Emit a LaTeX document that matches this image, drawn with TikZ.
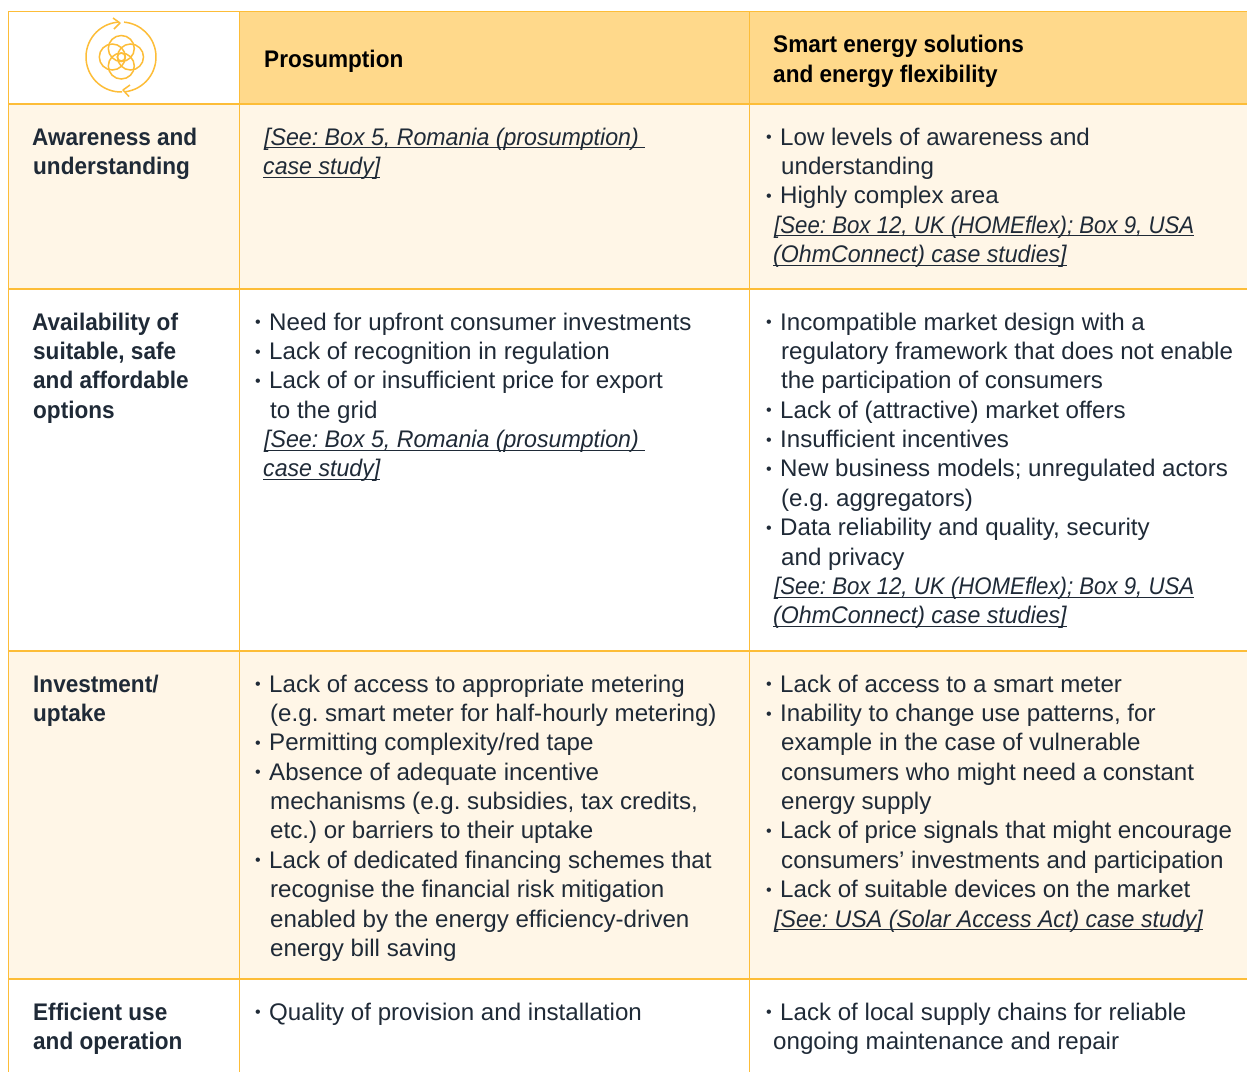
\documentclass[tikz,border=0pt]{standalone}
\usepackage{fontspec}
\usepackage{graphicx}
\setmainfont[FakeStretch=1.005]{Liberation Sans}
\newfontfamily\boldf[FakeStretch=.94,UprightFont={* Bold}]{Liberation Sans}
\newfontfamily\italf[FakeStretch=.965,UprightFont={* Italic}]{Liberation Sans}
\definecolor{rule}{HTML}{FDBD38}
\definecolor{head}{HTML}{FFD98B}
\definecolor{tint}{HTML}{FFF6E7}
\definecolor{ink}{HTML}{1F2A37}
\newsavebox{\ulbox}
\newcommand{\ulin}[2][1]{\sbox{\ulbox}{\scalebox{#1}[1]{\italf\frenchspacing #2}}\rlap{\usebox{\ulbox}}\rule[-3.2pt]{\wd\ulbox}{1pt}}
\newcommand{\bul}{\makebox[14pt][l]{\raisebox{2.4pt}{\fontsize{16}{16}\selectfont\textbullet}}}
\newcommand{\cont}{\hspace*{15pt}}
\newcommand{\firstl}{\rule{0pt}{20pt}}
\tikzset{
  x=1pt,y=-1pt,
  cell/.style={anchor=north west,inner sep=0pt,align=left,text=ink,
    font=\fontsize{24}{29.35}\selectfont\frenchspacing},
  rowhead/.style={cell,font=\fontsize{24}{29.35}\selectfont\boldf\frenchspacing},
  colhead/.style={cell,text=black,font=\fontsize{24}{30}\selectfont\boldf\frenchspacing},
  grid/.style={draw=rule,line width=1.3pt},
  icon/.style={draw=rule,line width=1.5pt}
}
\newcommand{\placecell}[5][cell]{\node[#1] (#2) at (#3,#4-20) {\firstl #5};}
\begin{document}
\begin{tikzpicture}
\useasboundingbox (0,0) rectangle (1247,1072);
\fill[white] (0,0) rectangle (1247,1072);
% fills
\fill[head] (239.5,11.5) rectangle (1247,104);
\fill[tint] (8.5,104) rectangle (1247,289);
\fill[tint] (8.5,651) rectangle (1247,979);
% grid
\draw[grid] (1247,11.5) -- (8.5,11.5) -- (8.5,1072);
\draw[grid] (239.5,11.5) -- (239.5,1072);
\draw[grid] (749.5,11.5) -- (749.5,1072);
\foreach \yy in {104,289,651,979} \draw[grid] (8.5,\yy) -- (1247,\yy);
% icon
\coordinate (ic) at (121,57);
\draw[icon] (ic) ++(83:35) arc[start angle=83,end angle=-85,radius=35];
\draw[icon] (ic) ++(-95:35) arc[start angle=-95,end angle=-272,radius=35];
\draw[icon,line join=round] (113,18) -- (120,23) -- (114,29);
\draw[icon,line join=round] (130,85) -- (123,90) -- (129,96.5);
\draw[icon] (121.3,48.5) circle[radius=13];
\draw[icon] (121.3,66) circle[radius=13];
\draw[icon] (112.3,57) circle[radius=13];
\draw[icon] (130.5,57) circle[radius=13];
\draw[icon] (121.3,57) circle[radius=4];
% column heads
\placecell[colhead]{hA}{264}{67}{Prosumption}
\placecell[colhead]{hB}{773}{52}{Smart energy solutions\\and energy flexibility}
% row heads
\placecell[rowhead]{r1}{32}{145}{Awareness and\\\hspace*{1pt}understanding}
\placecell[rowhead]{r2}{32}{330}{Availability of\\\hspace*{1pt}suitable, safe\\\hspace*{1pt}and affordable\\\hspace*{1pt}options}
\placecell[rowhead]{r3}{33}{692}{Investment/\\uptake}
\placecell[rowhead]{r4}{33}{1020}{Efficient use\\and operation}
% Prosumption column
\placecell{a1}{263}{145}{\hspace*{1pt}\ulin{[See: Box 5, Romania (prosumption) }\\\ulin{case study]}}
\placecell{a2}{255}{330}{\bul Need for upfront consumer investments\\
\bul Lack of recognition in regulation\\
\bul Lack of or insufficient price for export\\
\cont to the grid\\
\hspace*{9pt}\ulin{[See: Box 5, Romania (prosumption) }\\
\hspace*{8pt}\ulin{case study]}}
\placecell{a3}{255}{692}{\bul Lack of access to appropriate metering\\
\cont (e.g. smart meter for half-hourly metering)\\
\bul Permitting complexity/red tape\\
\bul Absence of adequate incentive\\
\cont mechanisms (e.g. subsidies, tax credits,\\
\cont etc.) or barriers to their uptake\\
\bul Lack of dedicated financing schemes that\\
\cont recognise the financial risk mitigation\\
\cont enabled by the energy efficiency-driven\\
\cont energy bill saving}
\placecell{a4}{255}{1020}{\bul Quality of provision and installation}
% Smart energy column
\placecell{b1}{766}{145}{\bul Low levels of awareness and\\
\cont understanding\\
\bul Highly complex area\\
\hspace*{8pt}\ulin[.96]{[See: Box 12, UK (HOMEflex); Box 9, USA}\\
\hspace*{7pt}\ulin{(OhmConnect) case studies]}}
\placecell{b2}{766}{330}{\bul Incompatible market design with a\\
\cont regulatory framework that does not enable\\
\cont the participation of consumers\\
\bul Lack of (attractive) market offers\\
\bul Insufficient incentives\\
\bul New business models; unregulated actors\\
\cont (e.g. aggregators)\\
\bul Data reliability and quality, security\\
\cont and privacy\\
\hspace*{8pt}\ulin[.96]{[See: Box 12, UK (HOMEflex); Box 9, USA}\\
\hspace*{7pt}\ulin{(OhmConnect) case studies]}}
\placecell{b3}{766}{692}{\bul Lack of access to a smart meter\\
\bul Inability to change use patterns, for\\
\cont example in the case of vulnerable\\
\cont consumers who might need a constant\\
\cont energy supply\\
\bul Lack of price signals that might encourage\\
\cont consumers’ investments and participation\\
\bul Lack of suitable devices on the market\\
\hspace*{8pt}\ulin{[See: USA (Solar Access Act) case study]}}
\placecell{b4}{766}{1020}{\bul Lack of local supply chains for reliable\\
\hspace*{7pt}ongoing maintenance and repair}
\end{tikzpicture}
\end{document}
